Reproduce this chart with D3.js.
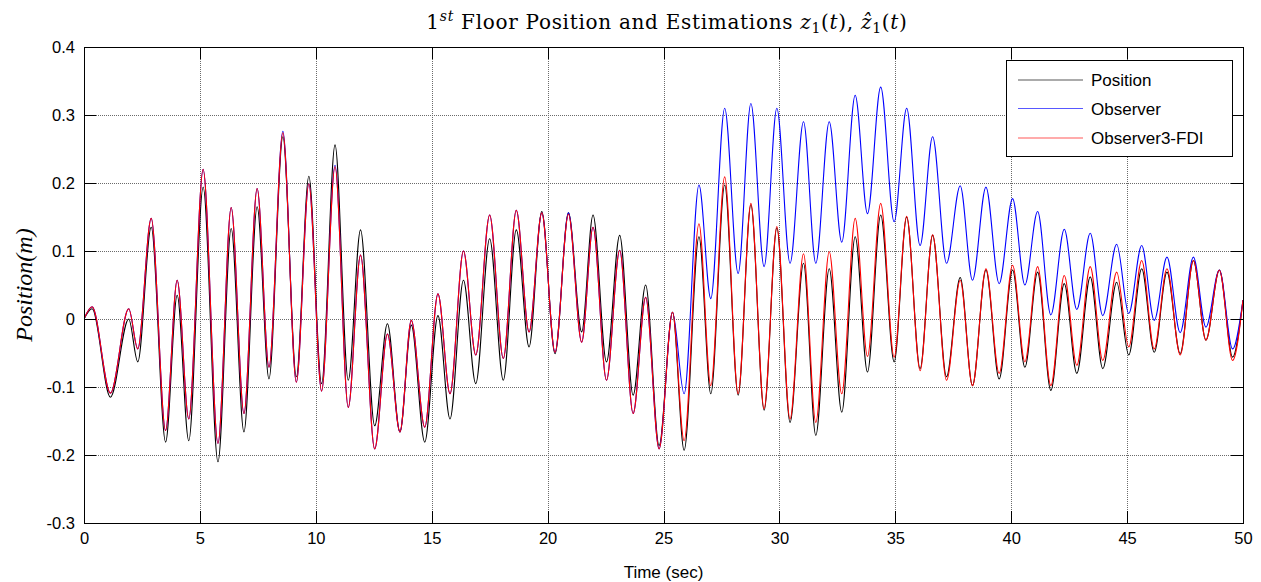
<!DOCTYPE html>
<html>
<head>
<meta charset="utf-8">
<script src="https://cdn.jsdelivr.net/npm/d3@7/dist/d3.min.js"></script>
<style>
  html, body { margin: 0; padding: 0; background: #fff; }
  svg { display: block; }
  .tick text { font-family: "Liberation Sans", Arial, sans-serif; font-size: 16.5px; fill: #000; }
</style>
</head>
<body>
<svg id="chart" width="1261" height="582"></svg>
<script>
// Extremum times (s) of the first-floor response, shared by the three traces
const timeSec = [
  0.00, 0.35, 1.14, 1.93, 2.32, 2.90, 3.52, 4.02, 4.52, 5.14,
  5.78, 6.35, 6.90, 7.47, 7.98, 8.58, 9.16, 9.70, 10.25, 10.83,
  11.40, 11.93, 12.54, 13.09, 13.63, 14.12, 14.70, 15.27, 15.79, 16.37,
  16.90, 17.50, 18.09, 18.65, 19.20, 19.75, 20.32, 20.90, 21.47, 21.96,
  22.54, 23.11, 23.69, 24.23, 24.81, 25.39, 25.89, 26.53, 27.04, 27.64,
  28.22, 28.77, 29.34, 29.89, 30.46, 31.04, 31.57, 32.15, 32.69, 33.27,
  33.80, 34.37, 34.95, 35.49, 36.07, 36.61, 37.21, 37.80, 38.33, 38.91,
  39.48, 40.06, 40.59, 41.14, 41.71, 42.29, 42.83, 43.41, 43.95, 44.55,
  45.07, 45.63, 46.17, 46.72, 47.29, 47.86, 48.40, 48.98, 49.55, 50.00
];

// Measured position z1(t) (m)
const position = [
  0.000, 0.015, -0.115, 0.000, -0.063, 0.135, -0.181, 0.035, -0.179, 0.194,
  -0.210, 0.133, -0.166, 0.165, -0.088, 0.268, -0.085, 0.210, -0.095, 0.256,
  -0.090, 0.131, -0.157, -0.007, -0.166, -0.009, -0.181, 0.005, -0.147, 0.057,
  -0.095, 0.118, -0.090, 0.131, -0.041, 0.158, -0.051, 0.156, -0.019, 0.153,
  -0.063, 0.123, -0.112, 0.050, -0.186, 0.010, -0.193, 0.121, -0.110, 0.197,
  -0.112, 0.168, -0.134, 0.134, -0.152, 0.082, -0.171, 0.074, -0.137, 0.121,
  -0.078, 0.153, -0.063, 0.150, -0.073, 0.123, -0.085, 0.061, -0.098, 0.072,
  -0.088, 0.072, -0.071, 0.069, -0.105, 0.052, -0.080, 0.062, -0.073, 0.054,
  -0.053, 0.074, -0.049, 0.069, -0.051, 0.086, -0.031, 0.072, -0.056, 0.028
];

// Standard observer estimate (m)
const observer = [
  0.000, 0.018, -0.109, 0.015, -0.044, 0.148, -0.164, 0.057, -0.147, 0.220,
  -0.183, 0.164, -0.139, 0.192, -0.071, 0.276, -0.093, 0.199, -0.106, 0.226,
  -0.130, 0.094, -0.191, -0.022, -0.166, -0.002, -0.159, 0.037, -0.110, 0.100,
  -0.053, 0.153, -0.058, 0.160, -0.019, 0.156, -0.049, 0.156, -0.034, 0.135,
  -0.090, 0.101, -0.139, 0.032, -0.191, 0.010, -0.110, 0.197, 0.030, 0.310,
  0.067, 0.317, 0.077, 0.310, 0.082, 0.290, 0.082, 0.290, 0.113, 0.329,
  0.155, 0.341, 0.143, 0.310, 0.108, 0.268, 0.082, 0.196, 0.057, 0.194,
  0.052, 0.177, 0.050, 0.158, 0.006, 0.132, 0.014, 0.126, 0.005, 0.110,
  0.008, 0.108, -0.002, 0.091, -0.020, 0.091, -0.012, 0.072, -0.044, 0.028
];

// Observer3-FDI estimate (m)
const observerFdi = [
  0.000, 0.018, -0.109, 0.015, -0.044, 0.148, -0.164, 0.057, -0.147, 0.220,
  -0.183, 0.164, -0.139, 0.192, -0.071, 0.274, -0.093, 0.199, -0.106, 0.224,
  -0.130, 0.094, -0.191, -0.022, -0.166, -0.002, -0.159, 0.037, -0.110, 0.100,
  -0.053, 0.153, -0.058, 0.160, -0.019, 0.156, -0.049, 0.154, -0.034, 0.135,
  -0.090, 0.101, -0.139, 0.032, -0.191, 0.010, -0.179, 0.140, -0.098, 0.209,
  -0.110, 0.170, -0.132, 0.136, -0.147, 0.096, -0.152, 0.099, -0.110, 0.148,
  -0.055, 0.170, -0.056, 0.151, -0.076, 0.124, -0.090, 0.057, -0.098, 0.074,
  -0.080, 0.079, -0.063, 0.077, -0.098, 0.064, -0.068, 0.077, -0.061, 0.069,
  -0.041, 0.086, -0.044, 0.074, -0.053, 0.086, -0.031, 0.072, -0.061, 0.028
];

const xTicks = [0, 5, 10, 15, 20, 25, 30, 35, 40, 45, 50];
const yTicks = [-0.3, -0.2, -0.1, 0, 0.1, 0.2, 0.3, 0.4];

const seriesNames = ["Position", "Observer", "Observer3-FDI"];
const seriesColors = ["#000000", "#0000ff", "#ff0000"];
const seriesValues = [position, observer, observerFdi];

const svg = d3.select("#chart");
const plotL = 84, plotR = 1243, plotT = 47, plotB = 523;

const x = d3.scaleLinear().domain([0, 50]).range([plotL, plotR]);
const y = d3.scaleLinear().domain([-0.3, 0.4]).range([plotB, plotT]);

// grid
const grid = svg.append("g").attr("stroke", "#6a6a6a").attr("stroke-width", 1)
  .attr("stroke-dasharray", "1,1").attr("shape-rendering", "crispEdges");
grid.selectAll("line.gx").data(xTicks.slice(1, -1)).join("line").attr("class", "gx")
  .attr("x1", d => Math.round(x(d)) + 0.5).attr("x2", d => Math.round(x(d)) + 0.5)
  .attr("y1", plotT).attr("y2", plotB);
grid.selectAll("line.gy").data(yTicks.slice(1, -1)).join("line").attr("class", "gy")
  .attr("y1", d => Math.round(y(d)) + 0.5).attr("y2", d => Math.round(y(d)) + 0.5)
  .attr("x1", plotL).attr("x2", plotR);

// traces
const line = d3.line()
  .x((d, i) => x(timeSec[i]))
  .y(d => y(d))
  .curve(d3.curveMonotoneX);

svg.append("clipPath").attr("id", "plotClip")
  .append("rect").attr("x", plotL).attr("y", plotT).attr("width", plotR - plotL).attr("height", plotB - plotT);

svg.append("g").attr("clip-path", "url(#plotClip)")
  .selectAll("path").data(seriesValues).join("path")
  .attr("d", d => line(d))
  .attr("fill", "none")
  .attr("stroke", (d, i) => seriesColors[i])
  .attr("stroke-width", 1.1)
  .attr("stroke-linejoin", "round");

// axes with inward ticks on all four sides
const tickLen = 12;
const fmtY = v => (Math.abs(v) < 1e-9 ? "0" : v.toFixed(1));

const xb = svg.append("g").attr("transform", `translate(0,${plotB})`)
  .call(d3.axisBottom(x).tickValues(xTicks).tickSize(-tickLen).tickPadding(7).tickFormat(d3.format("d")));
const xt = svg.append("g").attr("transform", `translate(0,${plotT})`)
  .call(d3.axisTop(x).tickValues(xTicks).tickSize(-tickLen).tickFormat(""));
const yl = svg.append("g").attr("transform", `translate(${plotL},0)`)
  .call(d3.axisLeft(y).tickValues(yTicks).tickSize(-tickLen).tickPadding(9).tickFormat(fmtY));
const yr = svg.append("g").attr("transform", `translate(${plotR},0)`)
  .call(d3.axisRight(y).tickValues(yTicks).tickSize(-tickLen).tickFormat(""));
[xb, xt, yl, yr].forEach(g => {
  g.select(".domain").remove();
  g.selectAll(".tick line").attr("stroke", "#000").attr("shape-rendering", "crispEdges");
});
xb.selectAll(".tick text").attr("dy", "0.85em");

// frame
svg.append("rect")
  .attr("x", plotL + 0.5).attr("y", plotT + 0.5)
  .attr("width", plotR - plotL).attr("height", plotB - plotT)
  .attr("fill", "none").attr("stroke", "#000").attr("stroke-width", 1)
  .attr("shape-rendering", "crispEdges");

// title
const title = svg.append("text")
  .attr("x", 667).attr("y", 29)
  .attr("text-anchor", "middle")
  .attr("font-family", "'DejaVu Serif', 'Liberation Serif', serif")
  .attr("font-size", 20).attr("letter-spacing", 0.7).attr("fill", "#000");
title.append("tspan").text("1");
title.append("tspan").attr("dy", -8).attr("font-size", 14).attr("font-style", "italic").text("st");
title.append("tspan").attr("dy", 8).text(" Floor Position and Estimations ");
title.append("tspan").attr("font-style", "italic").text("z");
title.append("tspan").attr("dy", 4).attr("font-size", 14).text("1");
title.append("tspan").attr("dy", -4).text("(");
title.append("tspan").attr("font-style", "italic").text("t");
title.append("tspan").text("), ");
title.append("tspan").attr("font-style", "italic").text("\u1E91");
title.append("tspan").attr("dy", 4).attr("font-size", 14).text("1");
title.append("tspan").attr("dy", -4).text("(");
title.append("tspan").attr("font-style", "italic").text("t");
title.append("tspan").text(")");

// axis labels
svg.append("text")
  .attr("x", (plotL + plotR) / 2).attr("y", 578)
  .attr("text-anchor", "middle")
  .attr("font-family", "'Liberation Sans', Arial, sans-serif")
  .attr("font-size", 17).attr("fill", "#000")
  .text("Time (sec)");

svg.append("text")
  .attr("transform", `translate(32,${(plotT + plotB) / 2}) rotate(-90)`)
  .attr("text-anchor", "middle")
  .attr("font-family", "'Liberation Serif', 'DejaVu Serif', serif")
  .attr("font-style", "italic")
  .attr("font-size", 24).attr("fill", "#000")
  .text("Position(m)");

// legend
const lg = svg.append("g");
lg.append("rect")
  .attr("x", 1006.5).attr("y", 60.5).attr("width", 226).attr("height", 96)
  .attr("fill", "#fff").attr("stroke", "#000").attr("shape-rendering", "crispEdges");
const rowsY = [80, 108.5, 138];
seriesNames.forEach((name, i) => {
  lg.append("line")
    .attr("x1", 1018).attr("x2", 1083)
    .attr("y1", rowsY[i]).attr("y2", rowsY[i])
    .attr("stroke", seriesColors[i]).attr("stroke-width", 1.1).attr("opacity", 0.65);
  lg.append("text")
    .attr("x", 1091).attr("y", rowsY[i]).attr("dy", "0.36em")
    .attr("font-family", "'Liberation Sans', Arial, sans-serif")
    .attr("font-size", 17).attr("fill", "#000")
    .text(name);
});
</script>
</body>
</html>
